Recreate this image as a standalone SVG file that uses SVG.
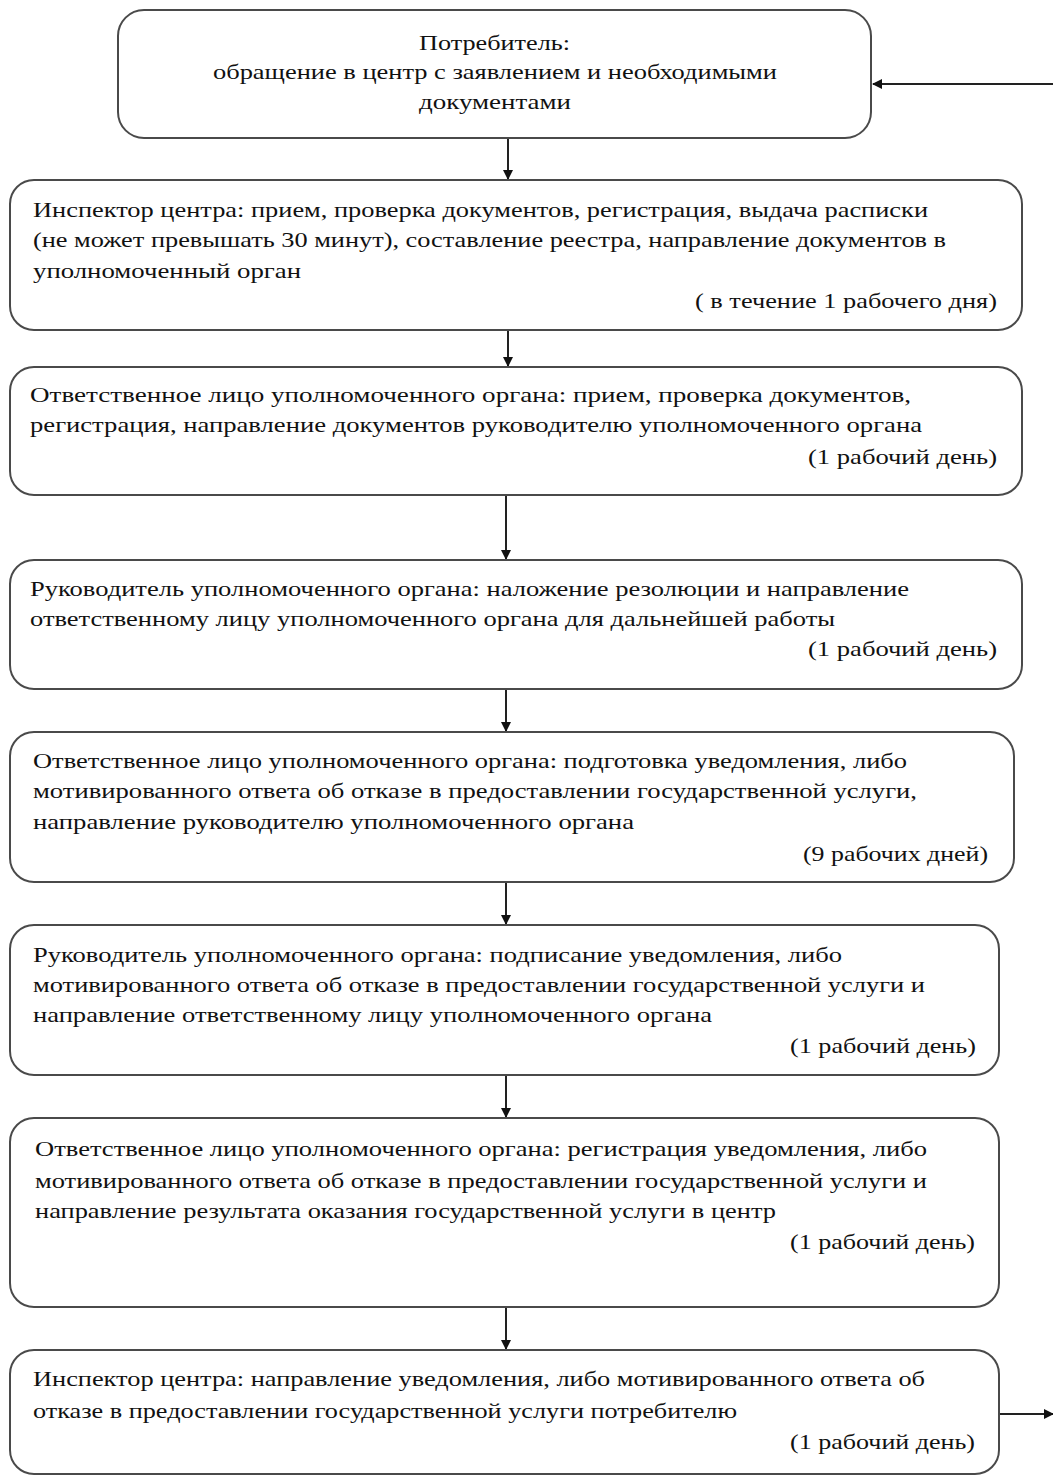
<svg xmlns="http://www.w3.org/2000/svg" width="1053" height="1475" viewBox="0 0 1053 1475">
<style>
.box{fill:#fff;stroke:#4a4a4a;stroke-width:2}
.t{font-family:"Liberation Serif","Times New Roman",serif;font-size:21px;fill:#111}
.c{stroke:#222;stroke-width:2;fill:none}
</style>
<defs>
<marker id="ah" markerWidth="10" markerHeight="10" refX="9" refY="5" orient="auto" markerUnits="userSpaceOnUse">
<path d="M0,0 L10,5 L0,10 Z" fill="#111"/>
</marker>
</defs>
<rect width="1053" height="1475" fill="#fff"/>
<g id="connectors">
<line class="c" x1="1053" y1="84" x2="873" y2="84" marker-end="url(#ah)"/>
<line class="c" x1="508" y1="139" x2="508" y2="179" marker-end="url(#ah)"/>
<line class="c" x1="508" y1="331" x2="508" y2="366" marker-end="url(#ah)"/>
<line class="c" x1="506" y1="496" x2="506" y2="559" marker-end="url(#ah)"/>
<line class="c" x1="506" y1="690" x2="506" y2="731" marker-end="url(#ah)"/>
<line class="c" x1="506" y1="883" x2="506" y2="924" marker-end="url(#ah)"/>
<line class="c" x1="506" y1="1076" x2="506" y2="1117" marker-end="url(#ah)"/>
<line class="c" x1="506" y1="1308" x2="506" y2="1349" marker-end="url(#ah)"/>
<line class="c" x1="1000" y1="1414" x2="1053" y2="1414" marker-end="url(#ah)"/>
</g>
<g id="n1">
<rect class="box" x="118" y="10" width="753" height="128" rx="26"/>
<text class="t" x="419" y="50" textLength="151" lengthAdjust="spacingAndGlyphs">Потребитель:</text>
<text class="t" x="213" y="79" textLength="564" lengthAdjust="spacingAndGlyphs">обращение в центр с заявлением и необходимыми</text>
<text class="t" x="419" y="109" textLength="152" lengthAdjust="spacingAndGlyphs">документами</text>
</g>
<g id="n2">
<rect class="box" x="10" y="180" width="1012" height="150" rx="24"/>
<text class="t" x="33" y="217" textLength="895" lengthAdjust="spacingAndGlyphs">Инспектор центра: прием, проверка документов, регистрация, выдача расписки</text>
<text class="t" x="33" y="247" textLength="913" lengthAdjust="spacingAndGlyphs">(не может превышать 30 минут), составление реестра, направление документов в</text>
<text class="t" x="33" y="278" textLength="268" lengthAdjust="spacingAndGlyphs">уполномоченный орган</text>
<text class="t" x="695" y="308" textLength="302" lengthAdjust="spacingAndGlyphs">( в течение 1 рабочего дня)</text>
</g>
<g id="n3">
<rect class="box" x="10" y="367" width="1012" height="128" rx="24"/>
<text class="t" x="30" y="402" textLength="881" lengthAdjust="spacingAndGlyphs">Ответственное лицо уполномоченного органа: прием, проверка документов,</text>
<text class="t" x="30" y="432" textLength="892" lengthAdjust="spacingAndGlyphs">регистрация, направление документов руководителю уполномоченного органа</text>
<text class="t" x="808" y="464" textLength="189" lengthAdjust="spacingAndGlyphs">(1 рабочий день)</text>
</g>
<g id="n4">
<rect class="box" x="10" y="560" width="1012" height="129" rx="24"/>
<text class="t" x="30" y="596" textLength="879" lengthAdjust="spacingAndGlyphs">Руководитель уполномоченного органа: наложение резолюции и направление</text>
<text class="t" x="30" y="626" textLength="805" lengthAdjust="spacingAndGlyphs">ответственному лицу уполномоченного органа для дальнейшей работы</text>
<text class="t" x="808" y="656" textLength="189" lengthAdjust="spacingAndGlyphs">(1 рабочий день)</text>
</g>
<g id="n5">
<rect class="box" x="10" y="732" width="1004" height="150" rx="24"/>
<text class="t" x="33" y="768" textLength="874" lengthAdjust="spacingAndGlyphs">Ответственное лицо уполномоченного органа: подготовка уведомления, либо</text>
<text class="t" x="33" y="798" textLength="884" lengthAdjust="spacingAndGlyphs">мотивированного ответа об отказе в предоставлении государственной услуги,</text>
<text class="t" x="33" y="829" textLength="601" lengthAdjust="spacingAndGlyphs">направление руководителю уполномоченного органа</text>
<text class="t" x="803" y="861" textLength="185" lengthAdjust="spacingAndGlyphs">(9 рабочих дней)</text>
</g>
<g id="n6">
<rect class="box" x="10" y="925" width="989" height="150" rx="24"/>
<text class="t" x="33" y="962" textLength="809" lengthAdjust="spacingAndGlyphs">Руководитель уполномоченного органа: подписание уведомления, либо</text>
<text class="t" x="33" y="992" textLength="892" lengthAdjust="spacingAndGlyphs">мотивированного ответа об отказе в предоставлении государственной услуги и</text>
<text class="t" x="33" y="1022" textLength="679" lengthAdjust="spacingAndGlyphs">направление ответственному лицу уполномоченного органа</text>
<text class="t" x="790" y="1053" textLength="186" lengthAdjust="spacingAndGlyphs">(1 рабочий день)</text>
</g>
<g id="n7">
<rect class="box" x="10" y="1118" width="989" height="189" rx="24"/>
<text class="t" x="35" y="1156" textLength="892" lengthAdjust="spacingAndGlyphs">Ответственное лицо уполномоченного органа: регистрация уведомления, либо</text>
<text class="t" x="35" y="1188" textLength="892" lengthAdjust="spacingAndGlyphs">мотивированного ответа об отказе в предоставлении государственной услуги и</text>
<text class="t" x="35" y="1218" textLength="741" lengthAdjust="spacingAndGlyphs">направление результата оказания государственной услуги в центр</text>
<text class="t" x="790" y="1249" textLength="185" lengthAdjust="spacingAndGlyphs">(1 рабочий день)</text>
</g>
<g id="n8">
<rect class="box" x="10" y="1350" width="989" height="124" rx="24"/>
<text class="t" x="33" y="1386" textLength="892" lengthAdjust="spacingAndGlyphs">Инспектор центра: направление уведомления, либо мотивированного ответа об</text>
<text class="t" x="33" y="1418" textLength="704" lengthAdjust="spacingAndGlyphs">отказе в предоставлении государственной услуги потребителю</text>
<text class="t" x="790" y="1449" textLength="185" lengthAdjust="spacingAndGlyphs">(1 рабочий день)</text>
</g>
</svg>
